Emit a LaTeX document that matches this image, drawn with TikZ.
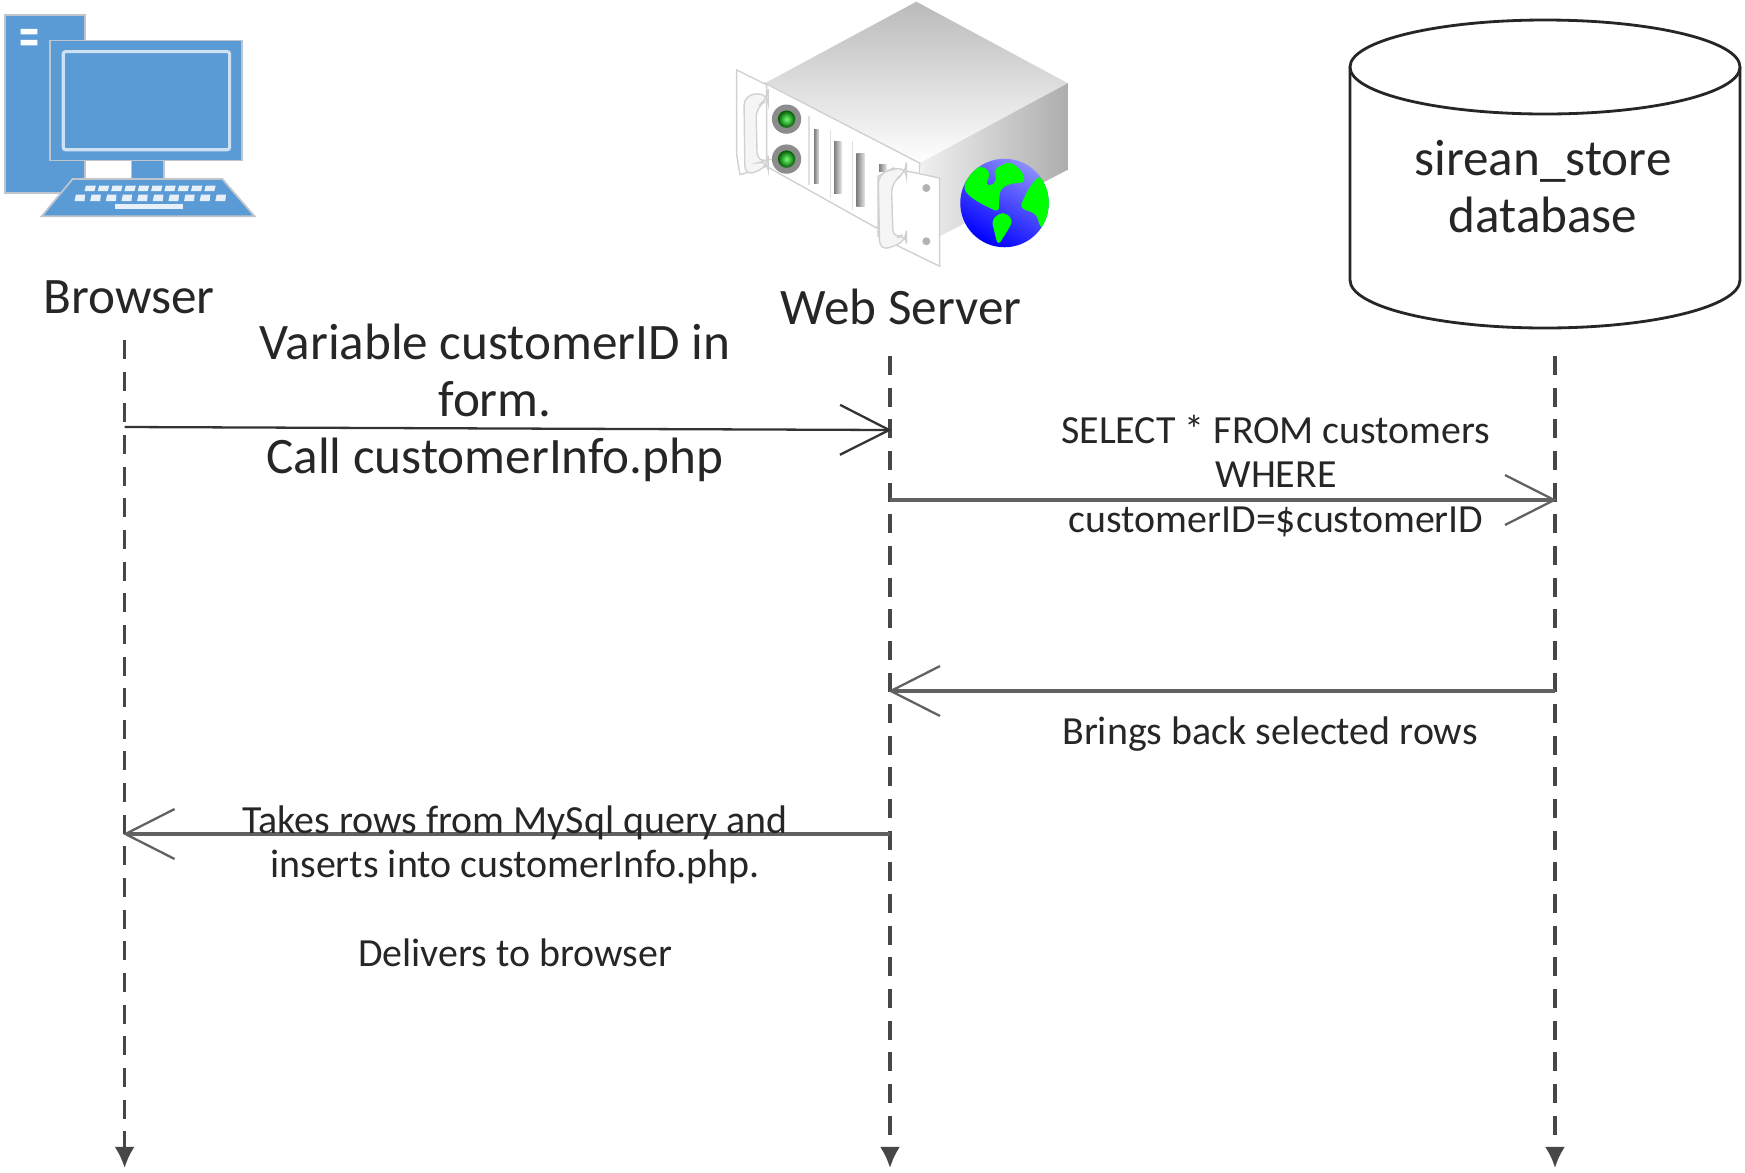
\documentclass[tikz,border=0pt]{standalone}
\usepackage{fontspec}
\setmainfont{Carlito}
\usetikzlibrary{arrows.meta,positioning}

\definecolor{iconblue}{HTML}{5B9BD5}
\definecolor{iconedge}{HTML}{BFC5CC}
\definecolor{inktext}{HTML}{262626}
\tikzset{
  bigtext/.style={text=inktext,align=center,inner sep=0pt,font=\fontsize{14.55}{16.2}\selectfont},
  smalltext/.style={text=inktext,align=center,inner sep=0pt,font=\fontsize{11.35}{12.6}\selectfont},
  life/.style={draw=black!72,line width=0.9pt,dash pattern=on 5.4pt off 3.6pt,-{Latex[length=6pt,width=5.7pt]}},
  msg/.style={draw=black!62,line width=1.1pt,shorten >=-0.5pt,-{Straight Barb[length=14pt,width=14.2pt,line width=0.65pt]}},
  msgthin/.style={msg,draw=black!80,line width=0.65pt},
  zoomed/.style={shift={(#1,0)},x=0.003333cm,y=-0.003333cm},
  plate/.style={draw=black!18,line width=0.4pt,fill=white},
}

\begin{document}
\begin{tikzpicture}[x=0.01cm,y=-0.01cm]
  \useasboundingbox (0,0) rectangle (1745,1172);

% browser icon
  \begin{scope}[zoomed=0]
    \path[draw=iconedge,fill=iconblue,line width=0.5pt] (15,45) rectangle (255,580);
    \fill[white] (62,87) rectangle (112,103) (62,120) rectangle (112,136);
    \path[draw=iconedge,fill=iconblue,line width=0.5pt] (395,482) rectangle (493,540);
    \path[draw=iconedge,fill=iconblue,line width=0.5pt] (150,122) rectangle (727,482);
    \path[draw=white!70!iconblue,rounded corners=0.7pt,line width=0.9pt] (190,155) rectangle (690,450);
    \path[draw=iconedge,fill=iconblue,line width=0.5pt] (218,538) -- (668,538) -- (765,650) -- (125,650) -- cycle;
    \foreach \i in {0,...,9} {
      \fill[white!85!iconblue] ({258+40*\i},558) -- ({288+40*\i},558) -- ({284+40*\i},574) -- ({254+40*\i},574) -- cycle;
      \fill[white!85!iconblue] ({228+47*\i},585) -- ({256+47*\i},585) -- ({254+47*\i},604) -- ({224+47*\i},604) -- cycle;
    }
    \fill[white!85!iconblue] (345,613) rectangle (550,629);
  \end{scope}

% server icon
  \begin{scope}[zoomed=720]
    \shade[top color=black!27,bottom color=white] (590,5) -- (1045,250) -- (600,490) -- (135,250) -- cycle;
    \shade[left color=black!6,right color=black!32] (600,490) -- (1045,250) -- (1045,510) -- (660,710) -- cycle;
    \path[plate] (135,250) -- (600,490) -- (600,560) -- (470,685) -- (140,500) -- cycle;
    \path[plate] (50,210) -- (140,255) -- (140,500) -- (60,525) -- (50,465) -- cycle;
    \path[plate,fill=black!4,rounded corners=3pt] (72,285) -- (145,280) -- (145,300) -- (108,320) -- (112,490) -- (145,480) -- (145,500) -- (75,530) -- cycle;
    \path[plate] (520,505) -- (660,535) -- (660,800) -- (475,710) -- (475,530) -- cycle;
    \path[plate,fill=black!4,rounded corners=3pt] (475,520) -- (560,500) -- (560,520) -- (515,545) -- (520,720) -- (560,700) -- (560,725) -- (480,755) -- cycle;
    \fill[black!45] (200,358) circle (44);
    \fill[black!45] (200,478) circle (44);
    \shade[inner color=green!55!white,outer color=green!35!black] (200,358) circle (26);
    \shade[inner color=green!55!white,outer color=green!35!black] (200,478) circle (26);
    \foreach \sx/\sy/\sw/\sh in {283/390/15/160,343/425/22/155,410/460/25/160,478/495/22/20} {
      \shade[left color=black!50,right color=black!10] (\sx,\sy) rectangle ({\sx+\sw},{\sy+\sh});
    }
    \foreach \sx/\sy/\sh in {268/350/205,332/390/205,398/425/205} {
      \path[draw=black!12,line width=0.4pt] (\sx,\sy) -- (\sx,{\sy+\sh});
    }
    \fill[black!30] (620,565) circle (12) (620,725) circle (12);
    % globe
    \shade[left color=blue!45!white,right color=blue,shading angle=-30] (855,610) circle (133);
    \begin{scope}
      \clip (855,610) circle (133);
      \fill[green,rounded corners=1.5pt] (730,565) -- (760,505) -- (800,500) -- (812,530) -- (795,555) -- (825,558) -- (832,522) -- (820,510) -- (870,485) -- (905,510) -- (920,548) -- (870,552) -- (842,568) -- (838,612) -- (838,638) -- (790,615) -- (752,592) -- cycle;
      \fill[green,rounded corners=1.5pt] (816,660) -- (850,635) -- (882,660) -- (862,697) -- (835,738) -- (823,690) -- cycle;
      \fill[green,rounded corners=1.5pt] (900,625) -- (925,570) -- (960,525) -- (995,580) -- (995,640) -- (965,690) -- (950,642) -- cycle;
    \end{scope}
  \end{scope}

% database
  \path[draw=black!85,fill=white,line width=0.8pt] (1350,67) -- (1350,280) arc[start angle=180,end angle=0,x radius=195,y radius=48] -- (1740,67);
  \path[draw=black!85,fill=white,line width=0.8pt] (1545,67) ellipse (195 and 47);

  \node[bigtext] (db)      at (1543,187) {sirean\_store\\database};
  \node[bigtext] (browser) at (129,297)  {Browser};
  \node[bigtext] (server)  at (901,307)  {Web Server};

% lifelines
  \coordinate (btop) at (124.6,340);
  \coordinate (bend) at (124.6,1168);
  \coordinate (stop) at (890,356);
  \coordinate (send) at (890,1168);
  \coordinate (dtop) at (1555,356);
  \coordinate (dend) at (1555,1168);
  \draw[life] (btop) -- (bend);
  \draw[life] (stop) -- (send);
  \draw[life] (dtop) -- (dend);

  \coordinate (b1) at (124.6,427);
  \coordinate (s1) at (890,430);
  \coordinate (s2) at (890,500);
  \coordinate (d2) at (1555,500);
  \coordinate (d3) at (1555,691);
  \coordinate (s3) at (890,691);
  \coordinate (s4) at (890,834);
  \coordinate (b4) at (124.6,834);

  \draw[msgthin] (b1) -- (s1);
  \draw[msg]     (s2) -- (d2);
  \draw[msg]     (d3) -- (s3);
  \draw[msg]     (s4) -- (b4);

  \node[bigtext]   (call)   at (495,403)  {Variable customerID in\\form.\\Call customerInfo.php};
  \node[smalltext] (select) at (1276,476) {SELECT * FROM customers\\WHERE\\customerID=\$customerID};
  \node[smalltext] (rows)   at (1270,734) {Brings back selected rows};
  \node[smalltext] (takes)  at (515,886)  {Takes rows from MySql query and\\inserts into customerInfo.php.\\\mbox{}\\Delivers to browser};
\end{tikzpicture}
\end{document}
